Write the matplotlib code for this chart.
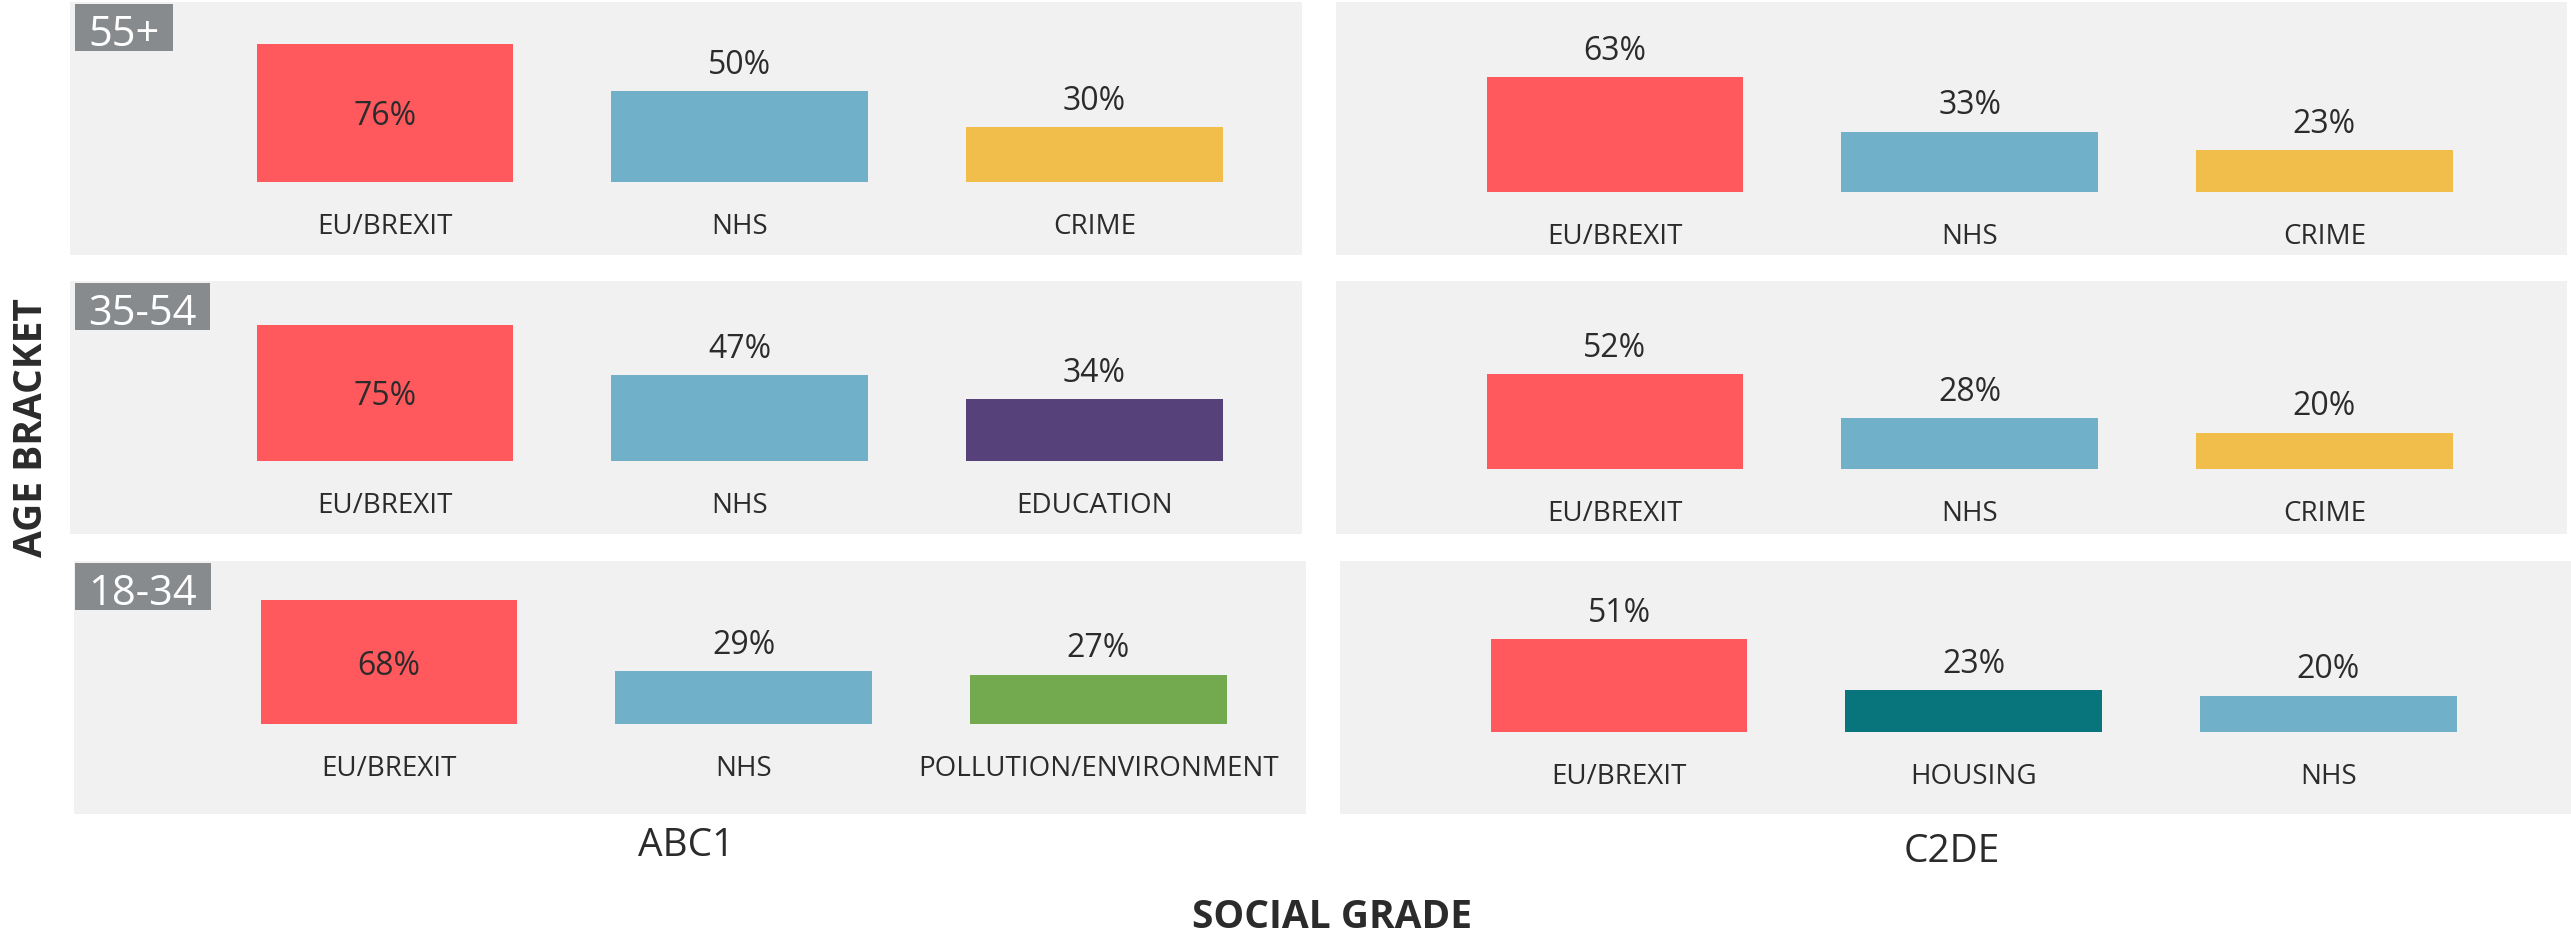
import matplotlib
matplotlib.use('Agg')
import matplotlib.pyplot as plt
from matplotlib.patches import Rectangle

plt.rcParams['font.family'] = ['Open Sans', 'DejaVu Sans']

# ---------------- data ----------------
age_brackets = ['55+', '35-54', '18-34']
social_grades = ['ABC1', 'C2DE']

abc1_55_issues = ['EU/BREXIT', 'NHS', 'CRIME']
abc1_55_pct = [76, 50, 30]
c2de_55_issues = ['EU/BREXIT', 'NHS', 'CRIME']
c2de_55_pct = [63, 33, 23]

abc1_35_issues = ['EU/BREXIT', 'NHS', 'EDUCATION']
abc1_35_pct = [75, 47, 34]
c2de_35_issues = ['EU/BREXIT', 'NHS', 'CRIME']
c2de_35_pct = [52, 28, 20]

abc1_18_issues = ['EU/BREXIT', 'NHS', 'POLLUTION/ENVIRONMENT']
abc1_18_pct = [68, 29, 27]
c2de_18_issues = ['EU/BREXIT', 'HOUSING', 'NHS']
c2de_18_pct = [51, 23, 20]

issue_colors = {
    'EU/BREXIT': '#FF585D',
    'NHS': '#71B0C9',
    'CRIME': '#F1BD4B',
    'EDUCATION': '#56417B',
    'POLLUTION/ENVIRONMENT': '#74AA4F',
    'HOUSING': '#08757D',
}

panels = [
    [(abc1_55_issues, abc1_55_pct), (c2de_55_issues, c2de_55_pct)],
    [(abc1_35_issues, abc1_35_pct), (c2de_35_issues, c2de_35_pct)],
    [(abc1_18_issues, abc1_18_pct), (c2de_18_issues, c2de_18_pct)],
]

# ---------------- layout (pixels) ----------------
W, H, DPI = 2571, 938, 100
PT = 72.0 / DPI  # points per pixel

col_x = [(70, 1302), (1336, 2567)]
row_top = [2, 281, 561]
row_shift = [0, 0, 4]
panel_h = 253
baseline_px = [[180, 190], [180, 188], [163, 171]]
px_per_pct = 1.82
first_center = [315, 279]
spacing = 354.7
bar_w = 0.723

panel_bg = '#F1F1F1'
badge_bg = '#888B8E'
text_col = '#2B2B2B'

fig = plt.figure(figsize=(W / DPI, H / DPI), dpi=DPI)
fig.patch.set_facecolor('white')

for r in range(3):
    for c in range(2):
        issues, pct = panels[r][c]
        x0, x1 = col_x[c]
        x0 += row_shift[r]
        x1 += row_shift[r]
        top = row_top[r]
        ax = fig.add_axes([x0 / W, 1 - (top + panel_h) / H, (x1 - x0) / W, panel_h / H])
        ax.set_facecolor(panel_bg)
        for s in ax.spines.values():
            s.set_visible(False)
        ax.set_xticks([])
        ax.set_yticks([])
        b = baseline_px[r][c]
        ax.set_ylim(-(panel_h - b) / px_per_pct, b / px_per_pct)
        xl = -first_center[c] / spacing
        ax.set_xlim(xl, xl + (x1 - x0) / spacing)

        xs = list(range(len(issues)))
        ax.bar(xs, pct, width=bar_w, color=[issue_colors[i] for i in issues], zorder=2)
        for xi, name, v in zip(xs, issues, pct):
            ax.annotate(name, xy=(xi, 0), xytext=(0, -52 * PT), textcoords='offset points',
                        ha='center', va='baseline', fontsize=20, color=text_col)
            if v >= 65:
                ax.annotate(f'{v}%', xy=(xi, v / 2), xytext=(0, -12.5 * PT),
                            textcoords='offset points', ha='center', va='baseline',
                            fontsize=23, color=text_col, zorder=3)
            else:
                ax.annotate(f'{v}%', xy=(xi, v), xytext=(0, 17.5 * PT),
                            textcoords='offset points', ha='center', va='baseline',
                            fontsize=23, color=text_col, zorder=3)

# badges
renderer = fig.canvas.get_renderer()
for r, label in enumerate(age_brackets):
    top = row_top[r]
    t = fig.text(88 / W, 1 - (top + 44) / H, label, ha='left', va='baseline',
                 fontsize=30, color='white', zorder=11)
    bb = t.get_window_extent(renderer)
    right_px = bb.x1 + 14
    rect = Rectangle((75 / W, 1 - (top + 49) / H), (right_px - 75) / W, 47 / H,
                     transform=fig.transFigure, facecolor=badge_bg, edgecolor='none', zorder=10)
    fig.add_artist(rect)

# column titles
fig.text(686 / W, 1 - 856 / H, social_grades[0], ha='center', va='baseline',
         fontsize=28, color=text_col)
fig.text(1952 / W, 1 - 862 / H, social_grades[1], ha='center', va='baseline',
         fontsize=28, color=text_col)

# axis titles
fig.text(1332 / W, 1 - 928 / H, 'SOCIAL GRADE', ha='center', va='baseline',
         fontsize=28, fontweight='bold', color=text_col)
fig.text(42 / W, 1 - 428 / H, 'AGE BRACKET', ha='center', va='baseline',
         rotation=90, rotation_mode='anchor', fontsize=28, fontweight='bold', color=text_col)

fig.savefig('out.png', dpi=DPI, facecolor='white')
